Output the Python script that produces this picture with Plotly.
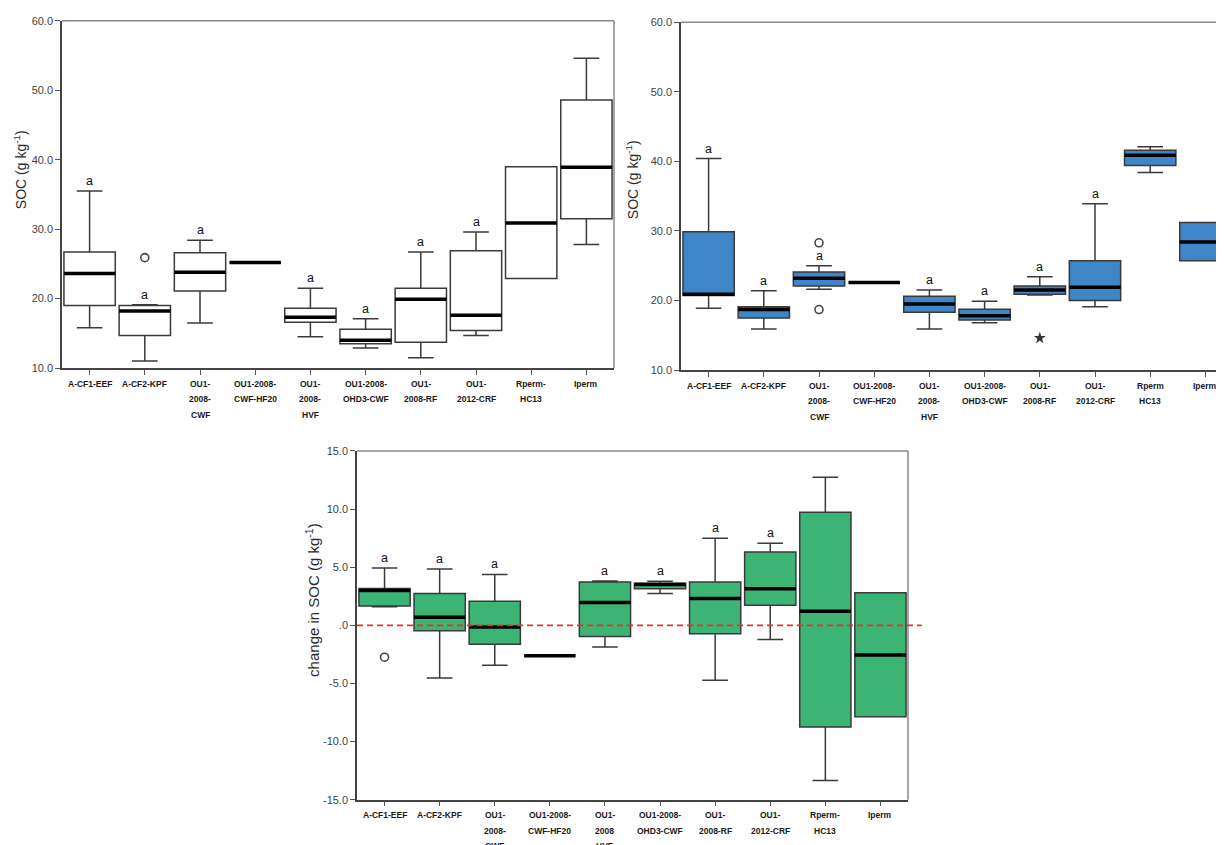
import plotly.graph_objects as go

W, H = 1224, 845
OFFX = 8        # horizontal page offset (body margin)
OFFY = 13.7     # vertical page offset observed
SY = 0.9865     # vertical scale observed

# ---------------- data ----------------
labels_top = ["A-CF1-EEF", "A-CF2-KPF", "OU1-<br>2008-<br>CWF", "OU1-2008-<br>CWF-HF20",
              "OU1-<br>2008-<br>HVF", "OU1-2008-<br>OHD3-CWF", "OU1-<br>2008-RF",
              "OU1-<br>2012-CRF", "Rperm-<br>HC13", "Iperm"]
labels_right = ["A-CF1-EEF", "A-CF2-KPF", "OU1-<br>2008-<br>CWF", "OU1-2008-<br>CWF-HF20",
                "OU1-<br>2008-<br>HVF", "OU1-2008-<br>OHD3-CWF", "OU1-<br>2008-RF",
                "OU1-<br>2012-CRF", "Rperm<br>HC13", "Iperm"]
labels_bottom = ["A-CF1-EEF", "A-CF2-KPF", "OU1-<br>2008-<br>CWF", "OU1-2008-<br>CWF-HF20",
                 "OU1-<br>2008<br>HVF", "OU1-2008-<br>OHD3-CWF", "OU1-<br>2008-RF",
                 "OU1-<br>2012-CRF", "Rperm-<br>HC13", "Iperm"]

# Panel 1 (SOC, white boxes)
p1_low = [15.8, 11.0, 16.5, 25.2, 14.5, 12.9, 11.5, 14.7, 22.9, 27.8]
p1_q1 = [19.0, 14.7, 21.1, 25.2, 16.6, 13.5, 13.7, 15.4, 22.9, 31.5]
p1_med = [23.6, 18.2, 23.8, 25.2, 17.3, 14.0, 19.9, 17.6, 30.9, 38.9]
p1_q3 = [26.7, 19.0, 26.6, 25.2, 18.6, 15.6, 21.5, 26.9, 39.0, 48.6]
p1_high = [35.5, 19.1, 28.4, 25.2, 21.5, 17.1, 26.7, 29.6, 39.0, 54.6]
p1_out_x = [1]
p1_out_y = [25.9]
p1_sig = ["a", "a", "a", "", "a", "a", "a", "a", "", ""]

# Panel 2 (SOC, blue boxes)
p2_low = [18.9, 15.9, 21.6, 22.6, 15.9, 16.8, 20.8, 19.1, 38.4, 25.7]
p2_q1 = [20.7, 17.5, 22.1, 22.6, 18.3, 17.2, 20.9, 20.0, 39.4, 25.7]
p2_med = [20.9, 18.7, 23.2, 22.6, 19.5, 17.8, 21.5, 21.9, 40.9, 28.4]
p2_q3 = [29.9, 19.1, 24.1, 22.6, 20.6, 18.75, 22.1, 25.7, 41.6, 31.2]
p2_high = [40.4, 21.4, 25.0, 22.6, 21.5, 19.9, 23.4, 33.9, 42.1, 31.2]
p2_out_x = [2, 2]
p2_out_y = [28.3, 18.7]
p2_ext_x = [6]
p2_ext_y = [14.6]
p2_sig = ["a", "a", "a", "", "a", "a", "a", "a", "", ""]

# Panel 3 (change in SOC, green boxes)
p3_low = [1.6, -4.53, -3.43, -2.62, -1.87, 2.74, -4.73, -1.21, -13.35, -7.87]
p3_q1 = [1.67, -0.46, -1.62, -2.62, -0.95, 3.14, -0.72, 1.73, -8.74, -7.87]
p3_med = [3.0, 0.69, -0.14, -2.62, 1.96, 3.52, 2.31, 3.14, 1.21, -2.54]
p3_q3 = [3.17, 2.74, 2.08, -2.62, 3.72, 3.63, 3.72, 6.32, 9.72, 2.8]
p3_high = [4.93, 4.85, 4.38, -2.62, 3.81, 3.8, 7.5, 7.07, 12.75, 2.8]
p3_out_x = [0]
p3_out_y = [-2.74]
p3_sig = ["a", "a", "a", "", "a", "a", "a", "a", "", ""]

ticks_soc = [10, 20, 30, 40, 50, 60]
ticktext_soc = ["10.0", "20.0", "30.0", "40.0", "50.0", "60.0"]
ticks_chg = [-15, -10, -5, 0, 5, 10, 15]
ticktext_chg = ["-15.0", "-10.0", "-5.0", ".0", "5.0", "10.0", "15.0"]

# ---------------- styling ----------------
BOXW = 0.93
LINEC = "#3a3a3a"
FONT = "Liberation Sans, Arial, sans-serif"


def px_x(p):
    return (p - OFFX) / W


def px_y(p):
    return 1 - (p - OFFY) / (H * SY)


panels = [
    dict(xa="x", ya="y", xdom=[px_x(62), px_x(614)], ydom=[px_y(368), px_y(20.5)],
         xr=[-0.5, 9.5], yr=[10, 60], tv=ticks_soc, tt=ticktext_soc,
         low=p1_low, q1=p1_q1, med=p1_med, q3=p1_q3, high=p1_high,
         fill="#ffffff", labels=labels_top, sig=p1_sig,
         outx=p1_out_x, outy=p1_out_y, extx=[], exty=[],
         title="SOC (g kg<sup>-1</sup>)", tpos=(20, 170), tsize=14, right=True),
    dict(xa="x2", ya="y2", xdom=[px_x(681), 1.0], ydom=[px_y(370), px_y(22)],
         xr=[-0.5, (W + OFFX - 681) / 55.2 - 0.5], yr=[10, 60], tv=ticks_soc, tt=ticktext_soc,
         low=p2_low, q1=p2_q1, med=p2_med, q3=p2_q3, high=p2_high,
         fill="#3f86c8", labels=labels_right, sig=p2_sig,
         outx=p2_out_x, outy=p2_out_y, extx=p2_ext_x, exty=p2_ext_y,
         title="SOC (g kg<sup>-1</sup>)", tpos=(632, 180), tsize=14, right=False),
    dict(xa="x3", ya="y3", xdom=[px_x(357), px_x(908)], ydom=[px_y(800), px_y(451)],
         xr=[-0.5, 9.5], yr=[-15, 15], tv=ticks_chg, tt=ticktext_chg,
         low=p3_low, q1=p3_q1, med=p3_med, q3=p3_q3, high=p3_high,
         fill="#3cb474", labels=labels_bottom, sig=p3_sig,
         outx=p3_out_x, outy=p3_out_y, extx=[], exty=[],
         title="change in SOC (g kg<sup>-1</sup>)", tpos=(313, 600), tsize=15, right=True),
]

fig = go.Figure()
layout = dict(width=W, height=H, margin=dict(l=0, r=0, t=0, b=0),
              paper_bgcolor="white", plot_bgcolor="white", showlegend=False,
              font=dict(family=FONT, color="#333"))
annotations = []
shapes = []

for k, p in enumerate(panels):
    n = len(p["med"])
    xs = list(range(n))
    fig.add_trace(go.Box(
        x=xs, q1=p["q1"], median=p["med"], q3=p["q3"],
        lowerfence=p["low"], upperfence=p["high"],
        width=BOXW, whiskerwidth=0.5, boxpoints=False,
        fillcolor=p["fill"], line=dict(color=LINEC, width=1.5),
        xaxis=p["xa"], yaxis=p["ya"], hoverinfo="skip"))
    # thick medians
    mx, my = [], []
    for i in xs:
        mx += [i - BOXW / 2, i + BOXW / 2, None]
        my += [p["med"][i], p["med"][i], None]
    fig.add_trace(go.Scatter(x=mx, y=my, mode="lines",
                             line=dict(color="black", width=3.5),
                             xaxis=p["xa"], yaxis=p["ya"], hoverinfo="skip"))
    if p["outx"]:
        fig.add_trace(go.Scatter(x=p["outx"], y=p["outy"], mode="markers",
                                 marker=dict(symbol="circle-open", size=8,
                                             color="#444", line=dict(width=1.6)),
                                 xaxis=p["xa"], yaxis=p["ya"], hoverinfo="skip"))
    if p["extx"]:
        fig.add_trace(go.Scatter(x=p["extx"], y=p["exty"], mode="markers",
                                 marker=dict(symbol="star", size=9, color="#333"),
                                 xaxis=p["xa"], yaxis=p["ya"], hoverinfo="skip"))
    sfx = "" if k == 0 else str(k + 1)
    layout["xaxis" + sfx] = dict(domain=p["xdom"], range=p["xr"], anchor=p["ya"],
                                 showgrid=False, zeroline=False, showline=True,
                                 linecolor="#444", linewidth=1.5,
                                 tickmode="array", tickvals=xs, ticks="outside",
                                 ticklen=5, tickcolor="#555", showticklabels=False)
    layout["yaxis" + sfx] = dict(domain=p["ydom"], range=p["yr"], anchor=p["xa"],
                                 showgrid=False, zeroline=False, showline=True,
                                 linecolor="#444", linewidth=1.5,
                                 tickmode="array", tickvals=p["tv"], ticktext=p["tt"],
                                 ticks="outside", ticklen=5, tickcolor="#555",
                                 tickfont=dict(size=11, color="#444", family=FONT))
    # frame: top and right
    shapes.append(dict(type="line", xref=p["xa"] + " domain", yref=p["ya"] + " domain",
                       x0=0, x1=1, y0=1, y1=1, line=dict(color="#8a8a8a", width=1.5)))
    if p["right"]:
        shapes.append(dict(type="line", xref=p["xa"] + " domain", yref=p["ya"] + " domain",
                           x0=1, x1=1, y0=0, y1=1, line=dict(color="#8a8a8a", width=1.5)))
    # category labels (one annotation per line)
    for i, lab in enumerate(p["labels"]):
        for j, line in enumerate(lab.split("<br>")):
            annotations.append(dict(x=i, y=0, xref=p["xa"], yref=p["ya"] + " domain",
                                    text="<b>" + line + "</b>", showarrow=False,
                                    xanchor="center", yanchor="middle",
                                    yshift=-(15.5 + 15.5 * j),
                                    font=dict(size=8.5, color="#1a1a1a", family=FONT)))
    # significance letters
    for i, s in enumerate(p["sig"]):
        if s:
            annotations.append(dict(x=i, y=p["high"][i], xref=p["xa"], yref=p["ya"],
                                    text=s, showarrow=False, xanchor="center",
                                    yanchor="bottom", yshift=1,
                                    font=dict(size=12.5, color="#111", family=FONT)))
    # y-axis title
    annotations.append(dict(x=px_x(p["tpos"][0]), y=px_y(p["tpos"][1]), xref="paper",
                            yref="paper", text=p["title"], textangle=-90, showarrow=False,
                            xanchor="center", yanchor="middle",
                            font=dict(size=p["tsize"], color="#2b2b2b", family=FONT)))

# red dashed zero line in the change panel
shapes.append(dict(type="line", xref="x3 domain", yref="y3", x0=0, x1=1.025, y0=0, y1=0,
                   line=dict(color="#e8302a", width=1.8, dash="6px,4px")))

layout["annotations"] = annotations
layout["shapes"] = shapes
fig.update_layout(**layout)
fig.write_html("out.html")
